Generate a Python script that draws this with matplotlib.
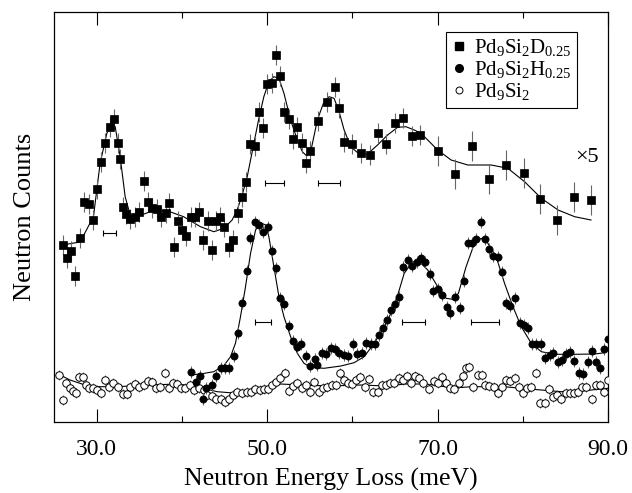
import matplotlib
matplotlib.use("Agg")
import matplotlib.pyplot as plt
from matplotlib.lines import Line2D
from matplotlib.ticker import FixedLocator

plt.rcParams['font.family'] = ['Liberation Serif', 'DejaVu Serif']
plt.rcParams['mathtext.fontset'] = 'custom'
plt.rcParams['mathtext.rm'] = 'Liberation Serif'
plt.rcParams['mathtext.it'] = 'Liberation Serif'
plt.rcParams['mathtext.default'] = 'regular'

# ---------------- data (energy in meV, counts in arbitrary units) ----------------
# Pd9Si2D0.25 (x5)
d_x = [26.02, 26.56, 27.0, 27.5, 28.06, 28.56, 29.08, 29.55, 30.02, 30.53, 31.04, 31.55,
       32.02, 32.56, 32.8, 33.08, 33.5, 33.94, 34.49, 35.0, 35.55, 36.06, 36.49, 37.12,
       37.55, 38.14, 38.49, 39.04, 39.59, 40.02, 40.49, 41.12, 41.59, 42.02, 42.53, 43.04,
       43.55, 44.02, 44.53, 45.0, 45.51, 46.02, 46.53, 47.04, 47.55, 48.02, 48.56, 49.04,
       49.51, 50.02, 50.53, 51.04, 51.55, 51.98, 52.53, 53.0, 53.51, 54.06, 54.56, 55.04,
       56.02, 57.0, 58.02, 58.45, 59.04, 60.02, 61.0, 62.02, 63.0, 63.98, 64.96, 65.98,
       67.0, 67.92, 70.02, 72.06, 74.06, 76.09, 78.06, 80.09, 82.06, 84.06, 86.06, 88.06]
d_y = [177, 164.3, 171.3, 146, 184, 219.7, 217.7, 202, 233, 260.3, 279.3, 295,
       303.3, 278.7, 263, 215, 208.3, 202.7, 205.3, 209.7, 241, 220.3, 213.7, 212.7,
       204.7, 208.7, 219.3, 175.3, 200.7, 192, 186.3, 205.3, 205.3, 210, 182, 201.3,
       172, 201.3, 205.3, 195.3, 175.3, 181.7, 209.3, 225.3, 239.7, 277.7, 276.3, 310,
       294.3, 337.7, 338.7, 367, 345.7, 310.3, 303, 283, 295.3, 278.7, 259.3, 271.3,
       301.3, 319.7, 334.7, 314, 280.3, 278, 269.3, 267.3, 288.7, 278.3, 298.7, 303.7,
       286, 287, 271.3, 248, 276.3, 242.7, 257, 248.7, 223, 202, 225, 222]
d_err = [10] * 74 + [15] * 10

d_fit_x = [25.94, 28.06, 29.63, 30.41, 31.2, 31.79, 32.18, 32.76, 33.35, 33.94, 34.73,
           36.29, 38.25, 40.21, 42.18, 43.75, 44.92, 45.9, 46.49, 47.08, 47.67, 48.45,
           49.04, 49.62, 50.21, 50.8, 51.39, 51.98, 52.76, 53.55, 54.14, 54.65, 55.2,
           55.9, 56.61, 57.27, 57.86, 58.45, 59.04, 59.82, 60.8, 61.79, 62.96, 64.14,
           65.32, 66.29, 67.27, 68.06, 70.02, 71.59, 73.55, 76.29, 78.25, 80.21, 82.18,
           84.14, 86.09, 88.0]
d_fit_y = [177, 180, 205.3, 258.7, 288.7, 298.7, 295.3, 265.3, 225.3, 207, 205.3,
           210.3, 211.3, 205.3, 195.3, 190.3, 193.7, 202, 212, 227, 245.3, 278.7,
           303.7, 325.3, 340.3, 345.3, 343.7, 328.7, 302, 282, 270.3, 266, 273.7,
           302, 318.7, 325.3, 323.7, 310.3, 292, 275.3, 268, 268, 277, 287,
           294.7, 295.3, 292, 288.7, 272, 262, 257, 257, 253.7, 240.3, 223.7,
           212, 205.3, 202]

# Pd9Si2H0.25
h_x = [41.08, 41.67, 42.09, 42.49, 42.85, 43.55, 44.02, 44.61, 45.12, 45.59, 46.09, 46.56,
       47.0, 47.59, 48.02, 48.53, 49.04, 49.51, 50.09, 50.53, 51.08, 51.55, 52.02, 52.53,
       53.04, 53.51, 54.02, 54.53, 55.08, 55.59, 55.91, 56.49, 56.96, 57.47, 57.98, 58.49,
       59.04, 59.55, 60.06, 60.56, 61.08, 61.62, 62.18, 62.61, 63.08, 63.55, 64.06, 64.53,
       65.0, 65.47, 65.98, 66.49, 67.0, 67.55, 68.06, 68.53, 69.08, 69.51, 70.02, 70.53,
       71.08, 71.51, 72.06, 72.61, 73.08, 73.59, 74.02, 74.56, 75.08, 75.59, 76.09, 76.56,
       77.08, 77.62, 78.06, 78.56, 79.12, 79.62, 80.18, 80.61, 81.12, 81.59, 82.09, 82.65,
       83.15, 83.59, 84.14, 84.56, 85.04, 85.59, 86.06, 86.56, 87.12, 87.62, 88.09, 88.56,
       89.08, 89.55, 90.0]
h_y = [49.7, 39.7, 46, 22.7, 33.7, 36.7, 46, 54.3, 53.7, 54.3, 66.5, 88.7,
       119.3, 151.3, 183.7, 200.3, 197, 189.7, 194.7, 171, 153.7, 124.3, 118, 96,
       81.3, 75.3, 77.7, 66.3, 56.3, 62.7, 57, 69.3, 67.7, 74.3, 72.7, 69.3,
       67, 66.3, 78, 67.7, 69.3, 78.7, 78, 78, 87, 94, 102.5, 112.5,
       118, 125, 155.3, 162, 156.3, 160.3, 163.7, 159.7, 148, 131.3, 132.7, 127,
       114.7, 108.7, 125.3, 113.7, 141, 178.7, 179.3, 183.3, 200, 182.7, 172.7, 166,
       164.7, 149.7, 119.3, 116, 124.3, 99.3, 97, 94.3, 78, 78, 78, 63.7,
       67, 68.7, 60.3, 62, 68, 69.7, 61.3, 49.3, 48, 59.7, 71.3, 60.3,
       53.7, 73.3, 83.3]
h_err = 6

h_fit_x = [41.0, 42.18, 43.74, 44.92, 45.71, 46.29, 46.88, 47.47, 48.06, 48.65, 49.24,
           49.82, 50.21, 50.8, 51.39, 51.98, 52.76, 53.55, 54.33, 55.12, 56.68, 58.65,
           60.21, 61.39, 62.56, 63.74, 64.92, 66.09, 67.08, 67.86, 68.85, 70.02, 71.0,
           71.79, 72.45, 73.35, 74.33, 75.12, 75.91, 76.88, 77.86, 78.85, 79.82, 81.0,
           82.18, 83.74, 86.09, 88.45, 89.62]
h_fit_y = [47, 48, 50.3, 56.3, 65.3, 78.7, 105.3, 135.3, 168.7, 192, 199.3,
           197, 185.3, 155.3, 125.3, 105.3, 85.3, 68.7, 58.7, 54.7, 53.7, 56,
           59.3, 65.3, 78.7, 95.3, 115.3, 148.7, 160.3, 160.3, 152, 135.3, 123.7,
           122.7, 128.7, 155.3, 178.7, 183.7, 178.7, 165.3, 138.7, 115.3, 95.3, 78.7,
           70.3, 67.7, 67.7, 68, 69.3]

# Pd9Si2
p_x = [25.59, 26.02, 26.41, 26.88, 27.2, 27.59, 27.98, 28.45, 28.76, 29.15, 29.55, 30.02,
       30.49, 31.0, 31.51, 31.98, 32.56, 33.08, 33.55, 33.94, 34.53, 34.92, 35.51, 36.02,
       36.49, 37.0, 37.47, 38.06, 38.45, 38.96, 39.44, 39.91, 40.41, 41.0, 41.47, 41.98,
       42.56, 42.96, 43.55, 44.06, 44.61, 45.12, 45.59, 46.02, 46.49, 47.08, 47.59, 48.06,
       48.56, 49.12, 49.62, 50.14, 50.53, 51.0, 51.51, 52.06, 52.56, 53.04, 53.55, 54.06,
       54.53, 55.0, 55.55, 56.09, 56.56, 57.08, 57.59, 58.06, 58.53, 59.04, 59.55, 60.02,
       60.41, 60.96, 61.47, 61.98, 62.45, 62.96, 63.44, 63.94, 64.41, 64.92, 65.44, 65.91,
       66.38, 66.88, 67.35, 67.86, 68.33, 69.04, 69.55, 70.02, 70.49, 71.0, 71.51, 71.98,
       72.56, 72.96, 73.35, 73.74, 74.21, 74.8, 75.2, 75.59, 76.09, 76.61, 77.15, 77.59,
       78.06, 78.56, 79.04, 79.51, 80.02, 80.53, 81.0, 81.59, 81.98, 82.56, 83.04, 83.55,
       84.06, 84.53, 85.04, 85.51, 86.02, 86.49, 87.0, 87.47, 88.14, 88.65, 89.12, 89.55,
       90.0]
p_y = [47, 22, 38.7, 33.7, 31.3, 28.7, 44.7, 45.3, 37, 33.7, 33.7, 32,
       28.7, 42, 35.3, 38.7, 35.3, 28, 28, 35.3, 38, 35.3, 37, 41.3,
       40.3, 33.7, 35.3, 48.7, 33.7, 38.7, 38, 33.7, 33.7, 37, 32, 33.7,
       32, 27, 26, 22.7, 22.7, 20.3, 22.7, 27, 30.3, 29.3, 29.7, 29.7,
       32.7, 32, 32.7, 32.7, 37, 40.3, 43.7, 49.3, 31.3, 36, 38.7, 33.7,
       37, 29.7, 40.3, 29.7, 33.7, 35.3, 37, 37, 48.7, 42, 38.7, 38,
       42, 45.3, 35.3, 43, 29.7, 30.3, 37, 37, 38.7, 38.7, 43.7, 42,
       46.3, 38.7, 46.3, 43.7, 38.7, 32.7, 41.3, 38.7, 45.3, 39.3, 33.7, 32.7,
       38.7, 46, 53.7, 55.3, 35.3, 47, 47, 37, 36, 35.3, 28.7, 35.3,
       42, 41.3, 43.7, 35.3, 28.7, 33.7, 35.3, 48.7, 18.7, 18.7, 32.7, 24.7,
       27, 22.7, 28.7, 28.7, 28.7, 30.3, 35.3, 35.3, 22.7, 37, 37, 30.3,
       42]
p_err = 5

p_fit_x = [25.32, 26.88, 29.24, 32.38, 36.29, 39.44, 41.79, 44.14, 46.06, 48.06, 50.02,
           51.59, 53.94, 57.47, 61.0, 63.94, 66.29, 68.65, 71.94, 73.94, 77.82, 79.82,
           82.18, 84.53, 86.88, 90.0]
p_fit_y = [48.7, 42, 35.3, 35.3, 37, 38, 35.3, 30.3, 29, 32, 33.7,
           38, 37, 36, 37, 36, 38, 38, 34, 35.3, 35.3, 33.7,
           32, 30.3, 31, 33.7]

# instrumental resolution bars: centre, half-width, height
res_d_x = [31.47, 50.86, 57.24]
res_d_hw = [0.75, 1.12, 1.26]
res_d_y = [188.7, 238.7, 238.7]
res_h_x = [49.51, 67.2, 75.57]
res_h_hw = [0.98, 1.37, 1.59]
res_h_y = [100.3, 100.3, 100.3]

labels = [r'Pd$_9$Si$_2$D$_{0.25}$', r'Pd$_9$Si$_2$H$_{0.25}$', r'Pd$_9$Si$_2$']
xticks_major = [30, 50, 70, 90]
xticks_minor = [40, 60, 80]

# ---------------- figure ----------------
fig = plt.figure(figsize=(6.32, 4.93), dpi=100)
ax = fig.add_axes([54 / 632, 71 / 493, 554 / 632, 410 / 493])

ecol = '0.4'
# fits
ax.plot(d_fit_x, d_fit_y, color='k', lw=0.8, zorder=2)
ax.plot(h_fit_x, h_fit_y, color='k', lw=0.8, zorder=2)
ax.plot(p_fit_x, p_fit_y, color='k', lw=0.8, zorder=2)

# data with error bars
ax.errorbar(p_x, p_y, yerr=p_err, fmt='o', ms=5.4, mfc='white', mec='k', mew=0.7,
            ecolor=ecol, elinewidth=0.7, capsize=0, zorder=3)
ax.errorbar(h_x, h_y, yerr=h_err, fmt='o', ms=5.2, mfc='k', mec='k', mew=0.5,
            ecolor=ecol, elinewidth=0.7, capsize=0, zorder=4)
ax.errorbar(d_x, d_y, yerr=d_err, fmt='s', ms=5.8, mfc='k', mec='k', mew=0.5,
            ecolor=ecol, elinewidth=0.8, capsize=0, zorder=5)

# resolution bars
ax.errorbar(res_d_x, res_d_y, xerr=res_d_hw, fmt='none', ecolor='k', elinewidth=0.8,
            capsize=2.2, capthick=0.8)
ax.errorbar(res_h_x, res_h_y, xerr=res_h_hw, fmt='none', ecolor='k', elinewidth=0.8,
            capsize=2.2, capthick=0.8)

ax.text(87.6, 264, '×5', fontsize=16, ha='center', va='center')

ax.set_xlim(25, 90)
ax.set_ylim(0, 410)
ax.xaxis.set_major_locator(FixedLocator(xticks_major))
ax.xaxis.set_minor_locator(FixedLocator(xticks_minor))
ax.set_xticklabels([f'{v:.1f}' for v in xticks_major])
ax.set_yticks([])
ax.tick_params(axis='x', which='major', direction='in', length=9.5, width=0.8,
               top=True, labelsize=17, pad=12)
ax.tick_params(axis='x', which='minor', direction='in', length=4.5, width=0.8, top=True)
for s in ax.spines.values():
    s.set_linewidth(0.9)

ax.set_xlabel('Neutron Energy Loss (meV)', fontsize=18.5, labelpad=6)
ax.set_ylabel('Neutron Counts', fontsize=19, labelpad=13)

handles = [Line2D([], [], ls='none', marker='s', ms=5.5, mfc='k', mec='k'),
           Line2D([], [], ls='none', marker='o', ms=5.5, mfc='k', mec='k'),
           Line2D([], [], ls='none', marker='o', ms=5.0, mfc='white', mec='k', mew=0.7)]
leg = ax.legend(handles, labels, loc='upper right', bbox_to_anchor=(0.944, 0.951),
                borderaxespad=0, fontsize=15, handlelength=0.8, handletextpad=0.3,
                labelspacing=0.05, borderpad=0.25, fancybox=False, framealpha=1,
                edgecolor='k')
leg.get_frame().set_linewidth(0.8)

fig.savefig('out.png', dpi=100)
